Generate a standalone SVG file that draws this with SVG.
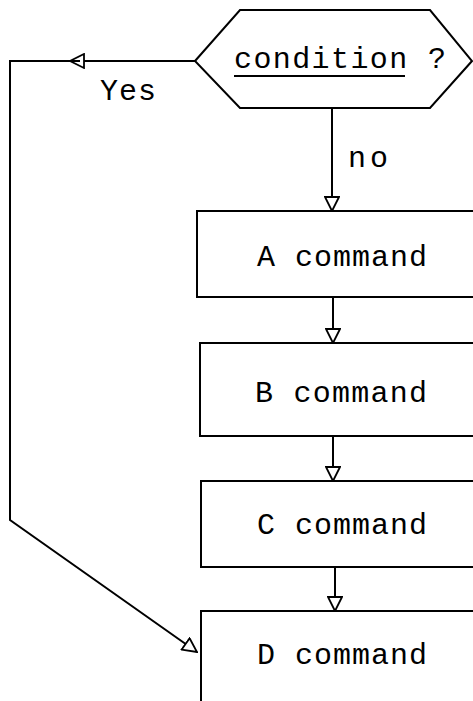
<svg xmlns="http://www.w3.org/2000/svg" width="473" height="701" viewBox="0 0 473 701">
<style>
.box{fill:#fff;stroke:#000;stroke-width:2}
.ln{fill:none;stroke:#000;stroke-width:2}
.t{font-family:"Liberation Mono","DejaVu Sans Mono",monospace;font-size:30px;fill:#000}
</style>
<defs>
<marker id="ah" viewBox="0 0 16 16" refX="15" refY="8" markerWidth="16" markerHeight="16" markerUnits="userSpaceOnUse" orient="auto">
<path d="M1,1 L15,8 L1,15 Z" fill="#fff" stroke="#000" stroke-width="1.8"/>
</marker>
</defs>
<g id="connectors">
<path class="ln" d="M195,61 L70,61" marker-end="url(#ah)"/>
<path class="ln" d="M80,61 L10,61 L10,520 L197,652" marker-end="url(#ah)"/>
<path class="ln" d="M332,108 L332,211" marker-end="url(#ah)"/>
<path class="ln" d="M333,297 L333,343" marker-end="url(#ah)"/>
<path class="ln" d="M333,436 L333,481" marker-end="url(#ah)"/>
<path class="ln" d="M335,567 L335,611" marker-end="url(#ah)"/>
</g>
<g id="condition">
<polygon class="box" points="195,61 240,10 430,10 472,61 430,108 240,108"/>
<text class="t" x="234" y="68" textLength="212" lengthAdjust="spacing">condition ?</text>
<line x1="234" y1="76" x2="405" y2="76" stroke="#000" stroke-width="2"/>
</g>
<g id="labels">
<text class="t" x="100" y="100" textLength="56" lengthAdjust="spacing">Yes</text>
<text class="t" x="348" y="167" textLength="40" lengthAdjust="spacing">no</text>
</g>
<g id="A">
<rect class="box" x="197" y="211" width="290" height="86"/>
<text class="t" x="257" y="266" textLength="170" lengthAdjust="spacing">A command</text>
</g>
<g id="B">
<rect class="box" x="200" y="343" width="290" height="93"/>
<text class="t" x="255" y="402" textLength="172" lengthAdjust="spacing">B command</text>
</g>
<g id="C">
<rect class="box" x="201" y="481" width="290" height="86"/>
<text class="t" x="257" y="534" textLength="170" lengthAdjust="spacing">C command</text>
</g>
<g id="D">
<rect class="box" x="201" y="611" width="290" height="110"/>
<text class="t" x="257" y="664" textLength="170" lengthAdjust="spacing">D command</text>
</g>
</svg>
